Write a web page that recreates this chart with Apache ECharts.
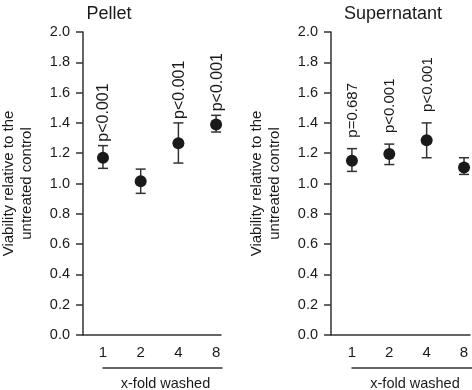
<!DOCTYPE html>
<html>
<head>
<meta charset="utf-8">
<script src="https://cdn.jsdelivr.net/npm/echarts@6/dist/echarts.min.js"></script>
<style>
  html, body { margin: 0; padding: 0; background: #fff; }
  #chart { width: 472px; height: 390px; }
</style>
</head>
<body>
<div id="chart"></div>
<script>
// x-fold washed
const washLabels = ['1', '2', '4', '8'];

// Pellet
const pelletMean = [1.17, 1.015, 1.265, 1.39];
const pelletLow = [1.10, 0.935, 1.135, 1.34];
const pelletHigh = [1.25, 1.095, 1.40, 1.45];
const pelletP = ['p<0.001', '', 'p<0.001', 'p<0.001'];

// Supernatant
const superMean = [1.15, 1.195, 1.285, 1.105];
const superLow = [1.08, 1.125, 1.17, 1.06];
const superHigh = [1.23, 1.26, 1.40, 1.17];
const superP = ['p=0.687', 'p<0.001', 'p<0.001', ''];

const FONT = '"Liberation Sans", Arial, Helvetica, sans-serif';
const INK = '#1a1a1a';
const AXIS = '#333';

const chart = echarts.init(document.getElementById('chart'));

function errorSeries(idx, low, high, pLabels, gap, size) {
  return {
    type: 'custom',
    xAxisIndex: idx,
    yAxisIndex: idx,
    z: 1,
    data: washLabels.map((_, i) => [i, low[i], high[i]]),
    renderItem: function (params, api) {
      const x = api.value(0);
      const lo = api.coord([x, api.value(1)]);
      const hi = api.coord([x, api.value(2)]);
      const cap = 5;
      const stroke = { stroke: AXIS, lineWidth: 1.5 };
      const kids = [
        { type: 'line', shape: { x1: lo[0], y1: lo[1], x2: hi[0], y2: hi[1] }, style: stroke },
        { type: 'line', shape: { x1: hi[0] - cap, y1: hi[1], x2: hi[0] + cap, y2: hi[1] }, style: stroke },
        { type: 'line', shape: { x1: lo[0] - cap, y1: lo[1], x2: lo[0] + cap, y2: lo[1] }, style: stroke }
      ];
      const txt = pLabels[params.dataIndex];
      if (txt) {
        // rotated p-value above the error bar
        kids.push({
          type: 'text',
          x: hi[0] + 1,
          y: hi[1] - gap,
          rotation: Math.PI / 2,
          style: {
            text: txt,
            fill: INK,
            font: size + 'px ' + FONT,
            align: 'left',
            verticalAlign: 'middle',
            textAlign: 'left',
            textVerticalAlign: 'middle'
          }
        });
      }
      return { type: 'group', children: kids };
    }
  };
}

function meanSeries(idx, mean) {
  return {
    type: 'scatter',
    xAxisIndex: idx,
    yAxisIndex: idx,
    z: 3,
    symbolSize: 12,
    itemStyle: { color: INK, opacity: 1 },
    data: washLabels.map((_, i) => [i, mean[i]])
  };
}

function mainX(idx, min, max) {
  return {
    type: 'value',
    gridIndex: idx,
    min: min,
    max: max,
    axisLine: { show: true, onZero: false, lineStyle: { color: AXIS, width: 1.5 } },
    axisTick: { show: false },
    splitLine: { show: false },
    axisLabel: {
      customValues: [0, 1, 2, 3],
      formatter: v => washLabels[Math.round(v)],
      color: INK, fontSize: 15, fontFamily: FONT, margin: 10
    }
  };
}

function mainY(idx) {
  return {
    type: 'value',
    gridIndex: idx,
    min: 0,
    max: 2,
    interval: 0.2,
    name: 'Viability relative to the\nuntreated control',
    nameLocation: 'middle',
    nameGap: 47,
    nameTextStyle: { color: INK, fontSize: 15, fontFamily: FONT, lineHeight: 18 },
    axisLine: { show: true, onZero: false, lineStyle: { color: AXIS, width: 1.5 } },
    axisTick: { show: true, length: 7, lineStyle: { color: AXIS, width: 1.5 } },
    splitLine: { show: false },
    axisLabel: {
      formatter: v => v.toFixed(1),
      color: INK, fontSize: 14.5, fontFamily: FONT, margin: 13
    }
  };
}

function underX(idx) {
  return {
    type: 'value',
    gridIndex: idx,
    min: 0,
    max: 1,
    name: 'x-fold washed',
    nameLocation: 'middle',
    nameGap: 8,
    nameTextStyle: { color: INK, fontSize: 14.5, fontFamily: FONT, verticalAlign: 'top', padding: [0, 0, 0, 6] },
    axisLine: { show: true, onZero: false, lineStyle: { color: AXIS, width: 1.5 } },
    axisTick: { show: false },
    axisLabel: { show: false },
    splitLine: { show: false }
  };
}

function hiddenY(idx) {
  return { type: 'value', gridIndex: idx, show: false };
}

const gridBase = { containLabel: false, outerBoundsMode: 'none' };

chart.setOption({
  animation: false,
  backgroundColor: '#fff',
  title: [
    { text: 'Pellet', left: 104, top: 0, textAlign: 'center',
      textStyle: { color: INK, fontSize: 18, fontWeight: 'normal', fontFamily: FONT } },
    { text: 'Supernatant', left: 388, top: 0, textAlign: 'center',
      textStyle: { color: INK, fontSize: 18, fontWeight: 'normal', fontFamily: FONT } }
  ],
  grid: [
    Object.assign({ left: 83, top: 32, width: 138, height: 303 }, gridBase),
    Object.assign({ left: 331, top: 32, width: 139, height: 303 }, gridBase),
    Object.assign({ left: 103, top: 367, width: 119, height: 1 }, gridBase),
    Object.assign({ left: 352, top: 367, width: 120, height: 1 }, gridBase)
  ],
  xAxis: [
    mainX(0, -0.53, 3.13),
    mainX(1, -0.56, 3.16),
    underX(2),
    underX(3)
  ],
  yAxis: [mainY(0), mainY(1), hiddenY(2), hiddenY(3)],
  series: [
    errorSeries(0, pelletLow, pelletHigh, pelletP, 4, 16),
    meanSeries(0, pelletMean),
    errorSeries(1, superLow, superHigh, superP, 11, 15),
    meanSeries(1, superMean)
  ]
});
</script>
</body>
</html>
